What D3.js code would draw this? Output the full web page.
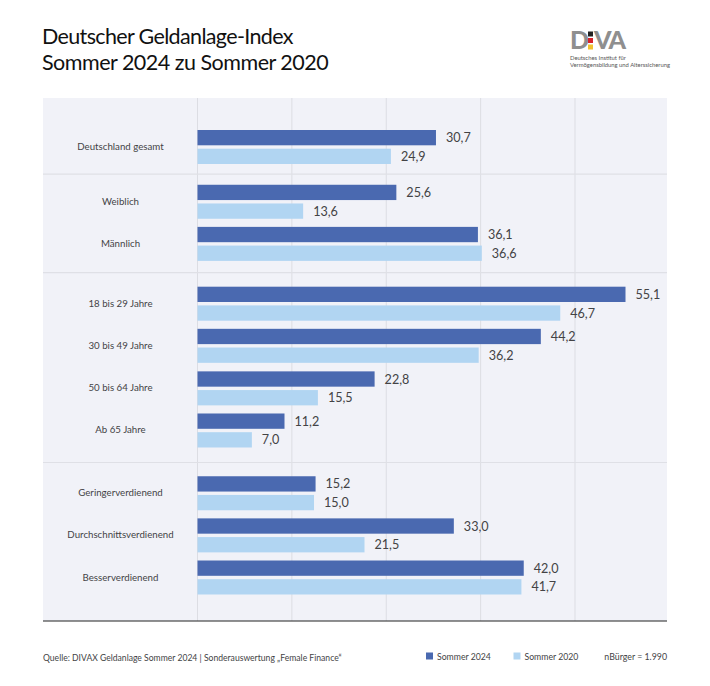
<!DOCTYPE html>
<html lang="de">
<head>
<meta charset="UTF-8">
<title>Deutscher Geldanlage-Index</title>
<script src="https://d3js.org/d3.v7.min.js"></script>
<style>
  html, body { margin: 0; padding: 0; background: #fff; }
  text { font-family: Lato, "Open Sans", sans-serif; }
</style>
</head>
<body>
<div class="chart"></div>
<script>
// Werte
const categories = ['Deutschland gesamt', 'Weiblich', 'Männlich', '18 bis 29 Jahre', '30 bis 49 Jahre',
  '50 bis 64 Jahre', 'Ab 65 Jahre', 'Geringerverdienend', 'Durchschnittsverdienend', 'Besserverdienend']
const rowPositions = [0, 1.3, 2.3, 3.72, 4.72, 5.73, 6.73, 8.22, 9.22, 10.22]
const sommer2024 = [30.7, 25.6, 36.1, 55.1, 44.2, 22.8, 11.2, 15.2, 33.0, 42.0]
const sommer2020 = [24.9, 13.6, 36.6, 46.7, 36.2, 15.5, 7.0, 15.0, 21.5, 41.7]
const gridTicks = [0, 12.15, 24.3, 36.45, 48.6]
const separators = [0.645, 2.98, 7.49]

const width = 710, height = 686
const dark = '#4a69b0', light = '#b1d5f2', textColor = '#434345'
const panel = { left: 43, right: 667, top: 98, bottom: 621 }

const svg = d3.select('.chart').append('svg')
  .attr('width', width)
  .attr('height', height)
  .style('display', 'block')

const x = d3.scaleLinear().domain([0, 55.1]).range([197.5, 625.5])
const y = d3.scaleLinear().domain([0, 10.22]).range([147, 577.5])
const barH = 15.3, barGap = 3.4

// Titel
const title = svg.append('text')
  .attr('fill', '#111')
  .style('font-size', '21.5px')
title.append('tspan').attr('x', 42).attr('y', 44).style('letter-spacing', '-0.65px').text('Deutscher Geldanlage-Index')
title.append('tspan').attr('x', 42).attr('y', 70).style('letter-spacing', '-0.5px').text('Sommer 2024 zu Sommer 2020')

// Logo
const logo = svg.append('g')
logo.append('text').attr('x', 570).attr('y', 49).attr('fill', '#8f8f8f')
  .style('font-size', '25px').style('font-weight', 900).text('D')
logo.append('text').attr('x', 594).attr('y', 49).attr('fill', '#8f8f8f')
  .style('font-size', '25px').style('font-weight', 900).style('letter-spacing', '-1.5px').text('VA')
logo.selectAll('rect').data(['#222', '#d8232a', '#f2c230']).join('rect')
  .attr('x', 588)
  .attr('y', (d, i) => 31.5 + i * 6.5)
  .attr('width', 5)
  .attr('height', 5)
  .attr('fill', d => d)
logo.append('text').attr('x', 570).attr('y', 60.2).attr('fill', '#555')
  .style('font-size', '5.85px').text('Deutsches Institut für')
logo.append('text').attr('x', 570).attr('y', 66.5).attr('fill', '#555')
  .style('font-size', '5.85px').text('Vermögensbildung und Alterssicherung')

// Hintergrund
svg.append('rect')
  .attr('x', panel.left).attr('y', panel.top)
  .attr('width', panel.right - panel.left)
  .attr('height', panel.bottom - panel.top)
  .attr('fill', '#f1f2f8')

// Gitternetz
svg.append('g').selectAll('line').data(gridTicks).join('line')
  .attr('x1', d => x(d)).attr('x2', d => x(d))
  .attr('y1', panel.top).attr('y2', panel.bottom)
  .attr('stroke', '#dcdde3').attr('stroke-width', 1)

svg.append('g').selectAll('line').data(separators).join('line')
  .attr('x1', panel.left).attr('x2', panel.right)
  .attr('y1', d => y(d)).attr('y2', d => y(d))
  .attr('stroke', '#dfe0e6').attr('stroke-width', 1.2)

svg.append('line')
  .attr('x1', panel.left).attr('x2', panel.right)
  .attr('y1', panel.bottom).attr('y2', panel.bottom)
  .attr('stroke', '#222').attr('stroke-width', 1.2)

// Balken
const rows = categories.map((c, i) => ({ name: c, pos: rowPositions[i], a: sommer2024[i], b: sommer2020[i] }))
const row = svg.append('g').selectAll('g').data(rows).join('g')

row.append('text')
  .attr('x', 120.5)
  .attr('y', d => y(d.pos) + 3)
  .attr('text-anchor', 'middle')
  .attr('fill', textColor)
  .style('font-size', '9.7px')
  .text(d => d.name)

row.append('rect')
  .attr('x', x(0))
  .attr('y', d => y(d.pos) - barH - barGap / 2)
  .attr('width', d => x(d.a) - x(0))
  .attr('height', barH)
  .attr('fill', dark)

row.append('rect')
  .attr('x', x(0))
  .attr('y', d => y(d.pos) + barGap / 2)
  .attr('width', d => x(d.b) - x(0))
  .attr('height', barH)
  .attr('fill', light)

const fmt = v => v.toFixed(1).replace('.', ',')

row.append('text')
  .attr('x', d => x(d.a) + 10)
  .attr('y', d => y(d.pos) - barGap / 2 - barH / 2 + 4.5)
  .attr('fill', textColor)
  .style('font-size', '12.6px')
  .text(d => fmt(d.a))

row.append('text')
  .attr('x', d => x(d.b) + 10)
  .attr('y', d => y(d.pos) + barGap / 2 + barH / 2 + 4.5)
  .attr('fill', textColor)
  .style('font-size', '12.6px')
  .text(d => fmt(d.b))

// Fusszeile
svg.append('text')
  .attr('x', 43).attr('y', 661).attr('fill', textColor)
  .style('font-size', '8.6px')
  .text('Quelle: DIVAX Geldanlage Sommer 2024 | Sonderauswertung „Female Finance“')

const legend = svg.append('g').selectAll('g')
  .data([{ label: 'Sommer 2024', color: dark, x: 426 }, { label: 'Sommer 2020', color: light, x: 513.5 }])
  .join('g')
legend.append('rect')
  .attr('x', d => d.x).attr('y', 652.5)
  .attr('width', 7).attr('height', 7)
  .attr('fill', d => d.color)
legend.append('text')
  .attr('x', d => d.x + 11).attr('y', 659.5)
  .attr('fill', textColor)
  .style('font-size', '8.7px')
  .text(d => d.label)

svg.append('text')
  .attr('x', 667).attr('y', 659.5)
  .attr('text-anchor', 'end')
  .attr('fill', textColor)
  .style('font-size', '8.8px')
  .text('nBürger = 1.990')
</script>
</body>
</html>
